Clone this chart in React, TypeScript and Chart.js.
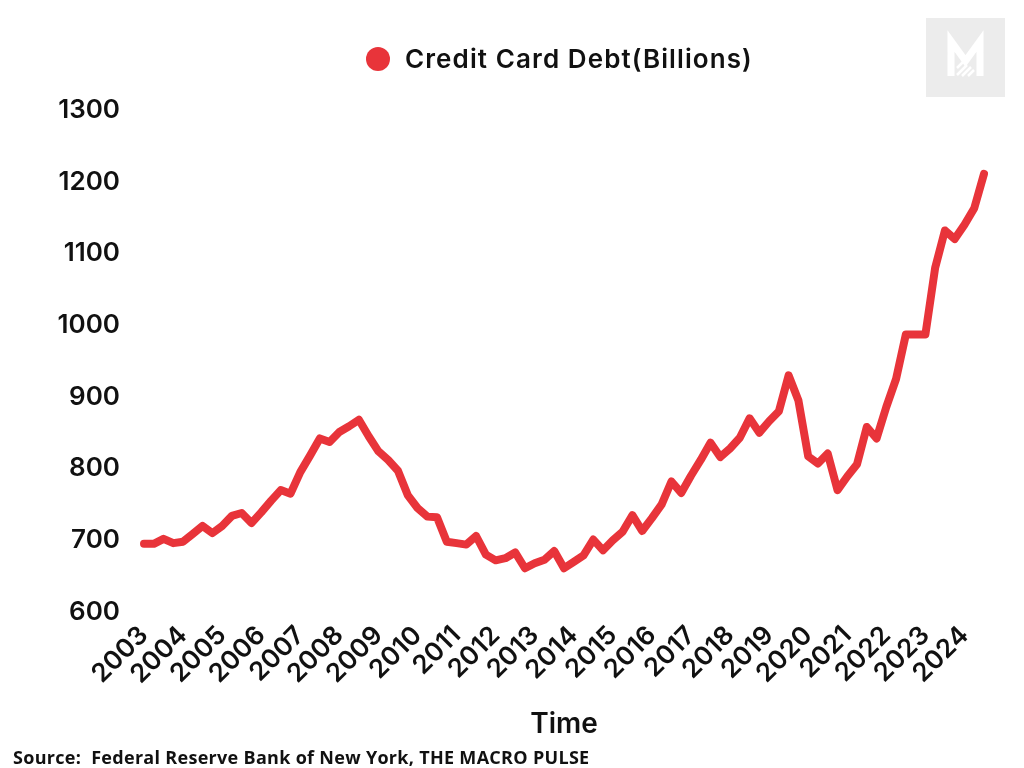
import { useEffect, useRef } from 'react'
import { Chart, LineController, LineElement, PointElement, CategoryScale, LinearScale } from 'chart.js'

Chart.register(LineController, LineElement, PointElement, CategoryScale, LinearScale)

// one tick label per year, the data is quarterly
const years = [
  '2003', '2004', '2005', '2006', '2007', '2008', '2009', '2010', '2011', '2012', '2013',
  '2014', '2015', '2016', '2017', '2018', '2019', '2020', '2021', '2022', '2023', '2024',
]

// credit card balances, billions of dollars
const debt = [
  695, 695, 702, 696, 698, 709, 720, 710, 720, 734,
  738, 724, 739, 755, 770, 765, 795, 818, 842, 837,
  851, 859, 868, 845, 824, 812, 797, 763, 745, 733,
  732, 698, 696, 694, 706, 680, 672, 675, 683, 661,
  668, 673, 685, 661, 670, 679, 701, 686, 700, 712,
  735, 713, 731, 750, 782, 766, 790, 812, 836, 816,
  828, 843, 870, 850, 866, 880, 930, 895, 817, 807,
  821, 770, 789, 806, 858, 842, 886, 925, 987, 987,
  987, 1080, 1132, 1120, 1140, 1163, 1211,
]

const Y_MIN = 600
const Y_MAX = 1300
const Y_STEP = 100

const seriesName = 'Credit Card Debt(Billions)'
const xTitle = 'Time'
const source = 'Source:  Federal Reserve Bank of New York, THE MACRO PULSE'

const RED = '#e8343a'
const INK = '#111111'
const FONT = 'Inter, "Noto Sans", sans-serif'

const quarterYears = debt.map((_, i) => years[Math.floor(i / 4)])

function Logo() {
  return (
    <svg width="79" height="79" viewBox="0 0 79 79" style={{ position: 'absolute', left: 926, top: 18 }}>
      <rect width="79" height="79" fill="#ececec" />
      <g fill="none" stroke="#fff" strokeLinejoin="miter">
        <path d="M25 58 L25 23 L39.5 43 L54 23 L54 58" strokeWidth="7" />
        <path d="M31 50 L37 44 M31 57 L41 47 M36 58 L45 49 M42 58 L48 52" strokeWidth="2.5" />
      </g>
    </svg>
  )
}

export default function App() {
  const canvasRef = useRef<HTMLCanvasElement>(null)
  const chartRef = useRef<Chart | null>(null)

  useEffect(() => {
    if (!canvasRef.current) return
    chartRef.current?.destroy()

    const tickFont = { family: FONT, size: 26, weight: 600 as const }

    chartRef.current = new Chart(canvasRef.current, {
      type: 'line',
      data: {
        labels: quarterYears,
        datasets: [
          {
            label: seriesName,
            data: debt,
            borderColor: RED,
            backgroundColor: RED,
            borderWidth: 8,
            borderJoinStyle: 'round',
            borderCapStyle: 'round',
            pointRadius: 0,
            tension: 0,
          },
        ],
      },
      options: {
        animation: false,
        responsive: true,
        maintainAspectRatio: false,
        layout: { padding: { left: 0, top: 110, right: 40, bottom: 23 } },
        plugins: {
          legend: { display: false },
          tooltip: { enabled: false },
        },
        scales: {
          x: {
            grid: { display: false, drawTicks: false },
            border: { display: false },
            ticks: {
              autoSkip: false,
              minRotation: 45,
              maxRotation: 45,
              padding: 8,
              color: INK,
              font: tickFont,
              callback: (_v, i) => (i % 4 === 0 ? quarterYears[i] : ''),
            },
            title: {
              display: true,
              text: xTitle,
              color: INK,
              font: { family: FONT, size: 28, weight: 600 },
              padding: { top: 4, bottom: 4 },
            },
            afterFit: s => { s.height = 133 },
          },
          y: {
            min: Y_MIN,
            max: Y_MAX,
            grid: { display: false, drawTicks: false },
            border: { display: false },
            ticks: {
              stepSize: Y_STEP,
              padding: 24,
              color: INK,
              font: tickFont,
              callback: v => String(v),
            },
            afterFit: s => { s.width = 144 },
          },
        },
      },
    })

    return () => chartRef.current?.destroy()
  }, [])

  return (
    <div style={{ position: 'relative', width: 1024, height: 768, background: '#fff', overflow: 'hidden' }}>
      <style>{'body{margin:0}'}</style>
      <div style={{ position: 'absolute', inset: 0 }}>
        <canvas ref={canvasRef} />
      </div>
      <div style={{ position: 'absolute', left: 366, top: 43, display: 'flex', alignItems: 'center', fontFamily: FONT, fontSize: 26, fontWeight: 600, letterSpacing: 1.1, color: INK }}>
        <span style={{ width: 24, height: 24, borderRadius: '50%', background: RED, marginRight: 15 }} />
        {seriesName}
      </div>
      <Logo />
      <div style={{ position: 'absolute', left: 13, top: 745, fontFamily: '"Open Sans", sans-serif', fontSize: 18, fontWeight: 700, letterSpacing: 0.3, color: INK, whiteSpace: 'pre' }}>
        {source}
      </div>
    </div>
  )
}
